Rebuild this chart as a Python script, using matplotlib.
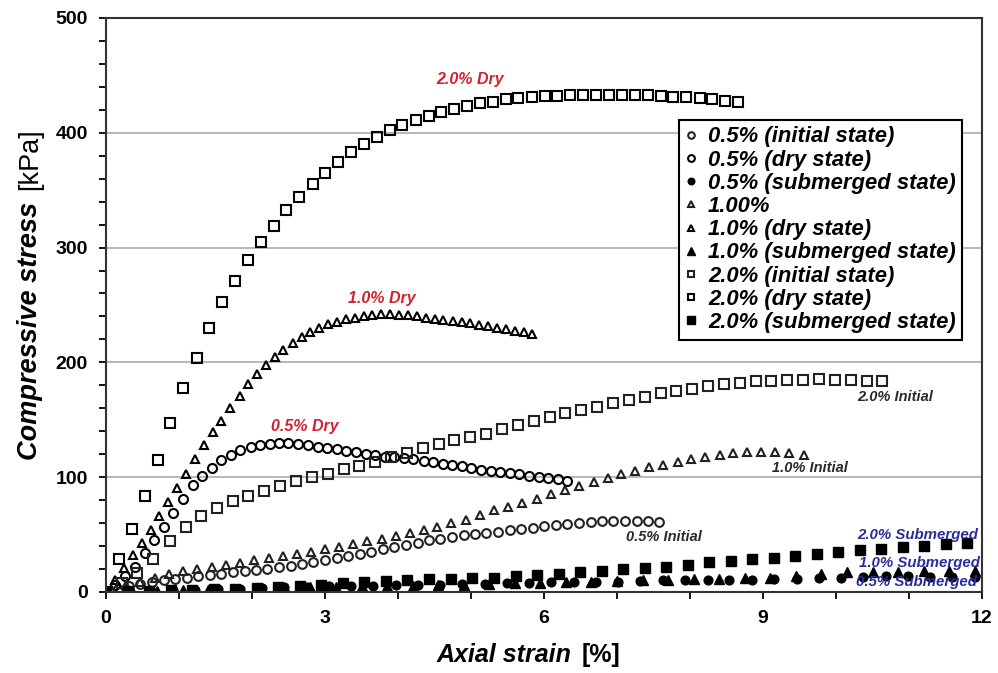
import matplotlib
matplotlib.use("Agg")
import matplotlib.pyplot as plt
from matplotlib.ticker import MultipleLocator

plt.rcParams['font.family'] = ['Liberation Sans', 'DejaVu Sans']

# ---------------------- Data -------------------

# 0.5 % fibre
x_05_init = [0, 0.16, 0.32, 0.47, 0.63, 0.79, 0.95, 1.11, 1.26, 1.42, 1.58, 1.74, 1.90, 2.05, 2.21, 2.37,
             2.53, 2.69, 2.84, 3.00, 3.16, 3.32, 3.48, 3.63, 3.79, 3.95, 4.11, 4.27, 4.42, 4.58, 4.74, 4.90,
             5.06, 5.21, 5.37, 5.53, 5.69, 5.85, 6.00, 6.16, 6.32, 6.48, 6.64, 6.79, 6.95, 7.11, 7.27, 7.43, 7.58]
y_05_init = [0, 3, 5, 7, 9, 10, 11.5, 12.5, 14, 15, 16, 17, 18, 19, 20, 21.5,
             23, 24.5, 26, 28, 30, 31.5, 33, 35, 37, 39, 41, 43, 45, 46.5, 48, 49.5,
             50.5, 51.5, 52.5, 54, 55, 56, 57.5, 58.5, 59.5, 60.5, 61, 61.5, 62, 62, 62, 62, 61]

x_05_dry = [0, 0.13, 0.26, 0.40, 0.53, 0.66, 0.79, 0.92, 1.05, 1.19, 1.32, 1.45, 1.58, 1.71, 1.84, 1.98,
            2.11, 2.24, 2.37, 2.50, 2.63, 2.77, 2.90, 3.03, 3.16, 3.29, 3.42, 3.56, 3.69, 3.82, 3.95, 4.08,
            4.21, 4.35, 4.48, 4.61, 4.74, 4.87, 5.00, 5.14, 5.27, 5.40, 5.53, 5.66, 5.79, 5.93, 6.06, 6.19, 6.32]
y_05_dry = [0, 6, 14, 22, 34, 45, 57, 69, 81, 93, 101, 108, 115, 119.5, 123.5, 126.5,
            128, 129, 129.5, 129.5, 129, 128, 126.5, 125.5, 124.5, 123, 122, 120.5, 119, 118, 117.5, 117,
            115.5, 114.5, 113, 111.5, 110.5, 109.5, 108, 106.5, 105.5, 104.5, 103.5, 102.5, 101, 100, 99, 98, 97]

x_05_sub = [0, 0.31, 0.61, 0.92, 1.22, 1.53, 1.83, 2.14, 2.44, 2.75, 3.05, 3.36, 3.66, 3.97, 4.27, 4.58,
            4.88, 5.19, 5.49, 5.80, 6.10, 6.41, 6.71, 7.02, 7.32, 7.63, 7.93, 8.24, 8.54, 8.85, 9.15, 9.46,
            9.76, 10.07, 10.37, 10.68, 10.98, 11.29, 11.59, 11.90]
y_05_sub = [0, 0.5, 1, 1.5, 2, 2.5, 3, 3.5, 4, 4.5, 5, 5.5, 5.5, 6, 6, 6.5,
            7, 7, 7.5, 8, 8.5, 9, 9, 9, 9.5, 10, 10, 10, 10.5, 10.5, 11, 11.5,
            12, 12.5, 13, 13.5, 13.5, 13, 13, 13]

# 1.0 % fibre
x_10_init = [0.08, 0.28, 0.47, 0.67, 0.86, 1.06, 1.25, 1.45, 1.64, 1.84, 2.03, 2.23, 2.42, 2.61, 2.81, 3.00,
             3.19, 3.38, 3.58, 3.78, 3.97, 4.16, 4.36, 4.54, 4.73, 4.93, 5.12, 5.31, 5.51, 5.70, 5.90, 6.09,
             6.29, 6.48, 6.68, 6.87, 7.06, 7.25, 7.44, 7.63, 7.83, 8.02, 8.21, 8.41, 8.59, 8.78, 8.97, 9.16,
             9.35, 9.56]
y_10_init = [2, 6, 9, 12, 16, 18, 20, 21.5, 23.5, 25.5, 27.5, 29.5, 31, 33, 35, 37.5,
             39.5, 41.5, 44, 46, 49, 51.5, 54, 57, 60, 63, 67, 71, 74, 77.5, 81, 85,
             89, 92, 95.5, 99.5, 102.5, 105, 108.5, 110.5, 113.5, 115.5, 118, 119.5, 121, 122, 122, 121.5,
             121, 119.5]

x_10_dry = [0, 0.12, 0.24, 0.37, 0.49, 0.61, 0.73, 0.85, 0.97, 1.10, 1.22, 1.34, 1.46, 1.58, 1.70, 1.83,
            1.95, 2.07, 2.19, 2.31, 2.43, 2.56, 2.68, 2.80, 2.92, 3.04, 3.17, 3.29, 3.41, 3.53, 3.65, 3.77,
            3.89, 4.02, 4.14, 4.26, 4.38, 4.50, 4.62, 4.75, 4.87, 4.99, 5.11, 5.23, 5.35, 5.48, 5.60, 5.72, 5.84]
y_10_dry = [0, 10, 21, 32, 43, 54, 66, 78, 91, 103, 116, 128, 139, 149, 160, 171,
            181, 190, 198, 205, 211, 217, 222, 226.5, 230, 233, 235.5, 237.5, 239, 240.5, 241.5, 242,
            242, 241.5, 241, 240, 239, 238, 237, 236, 235, 234, 232.5, 231.5, 230, 229, 227.5, 226.5, 225]

x_10_sub = [0, 0.35, 0.70, 1.05, 1.40, 1.75, 2.10, 2.45, 2.80, 3.15, 3.50, 3.85, 4.20, 4.55, 4.90, 5.25,
            5.60, 5.95, 6.30, 6.65, 7.00, 7.35, 7.70, 8.05, 8.40, 8.75, 9.10, 9.45, 9.80, 10.15, 10.50, 10.85,
            11.20, 11.55, 11.90]
y_10_sub = [0, 0.5, 1, 1.5, 2, 2.5, 3, 3.5, 4, 4.5, 5, 5, 5.5, 6, 6.5, 7,
            7.5, 8, 8.5, 9, 9.5, 10, 10.5, 11, 11.5, 12, 12.5, 14, 15.5, 17, 17.5, 17.5,
            18, 18, 18.5]

# 2.0 % fibre
x_20_init = [0, 0.22, 0.43, 0.65, 0.87, 1.09, 1.30, 1.52, 1.74, 1.95, 2.17, 2.39, 2.60, 2.82, 3.04, 3.26,
             3.47, 3.69, 3.91, 4.12, 4.34, 4.56, 4.77, 4.99, 5.21, 5.43, 5.64, 5.86, 6.08, 6.29, 6.51, 6.73,
             6.94, 7.16, 7.38, 7.60, 7.81, 8.03, 8.25, 8.46, 8.68, 8.90, 9.11, 9.33, 9.55, 9.77, 9.98, 10.20,
             10.42, 10.63]
y_20_init = [0, 8, 16.5, 29, 44, 57, 66, 73, 79, 84, 88, 92, 97, 100, 103, 107,
             110, 113.5, 118, 121, 125, 129, 132, 135, 138, 142, 145.5, 149, 152, 156, 158.5, 161,
             165, 167, 170, 173, 175, 177, 179.5, 181, 182, 184, 184, 184.5, 185, 185.5, 185, 184.5,
             184, 184]

x_20_dry = [0, 0.18, 0.35, 0.53, 0.71, 0.88, 1.06, 1.24, 1.41, 1.59, 1.77, 1.94, 2.12, 2.30, 2.47, 2.65,
            2.83, 3.00, 3.18, 3.36, 3.53, 3.71, 3.89, 4.06, 4.24, 4.42, 4.59, 4.77, 4.95, 5.12, 5.30, 5.48,
            5.65, 5.83, 6.01, 6.18, 6.36, 6.54, 6.71, 6.89, 7.07, 7.24, 7.42, 7.60, 7.77, 7.95, 8.13, 8.30,
            8.48, 8.66]
y_20_dry = [0, 29, 55, 84, 115, 147, 178, 204, 230, 253, 271, 289, 305, 319, 333, 344,
            355, 365, 374.5, 383, 390, 396, 402, 407, 411, 414.5, 418, 421, 423, 425.5, 427, 429,
            430, 431, 432, 432, 432.5, 432.5, 433, 433, 433, 433, 432.5, 432, 431.5, 431, 430, 429,
            428, 427]

x_20_sub = [0, 0.30, 0.59, 0.89, 1.18, 1.48, 1.77, 2.07, 2.36, 2.66, 2.95, 3.25, 3.54, 3.84, 4.13, 4.43,
            4.72, 5.02, 5.31, 5.61, 5.90, 6.20, 6.49, 6.79, 7.08, 7.38, 7.67, 7.97, 8.26, 8.56, 8.85, 9.15,
            9.44, 9.74, 10.03, 10.33, 10.62, 10.92, 11.21, 11.51, 11.80]
y_20_sub = [0, 0.5, 1, 1.5, 2, 2.5, 3, 3.5, 4.5, 5.5, 6.5, 7.5, 8.5, 9.5, 10.5, 11,
            11, 12, 12.5, 14, 14.5, 16, 17, 18.5, 20, 20.5, 22, 23.5, 26, 27, 28.5, 30,
            31, 33.5, 35, 36.5, 37.5, 39, 40, 41.5, 42.5]

series_labels = ['0.5% (initial state)', '0.5% (dry state)', '0.5% (submerged state)',
                 '1.00%', '1.0% (dry state)', '1.0% (submerged state)',
                 '2.0% (initial state)', '2.0% (dry state)', '2.0% (submerged state)']

# curve annotations: text, x, y, colour, size
RED = '#d3202e'
BLUE = '#2c2c9c'
GREY = '#2a2a2a'
notes = [('2.0% Dry', 4.99, 446, RED, 11.5), ('1.0% Dry', 3.78, 256, RED, 11.5), ('0.5% Dry', 2.73, 144, RED, 11.5),
         ('2.0% Initial', 10.81, 170, GREY, 10.5), ('1.0% Initial', 9.64, 108, GREY, 10.5),
         ('0.5% Initial', 7.64, 48, GREY, 10.5),
         ('2.0% Submerged', 11.12, 50, BLUE, 10.8), ('1.0% Submerged', 11.14, 25, BLUE, 10.8),
         ('0.5% Submerged', 11.1, 8.5, BLUE, 10.8)]

# ---------------------- Plot -------------------

fig = plt.figure(figsize=(9.98, 6.73), dpi=100)
ax = fig.add_axes([0.1062, 0.1204, 0.8778, 0.8529])

ew = 1.5
ax.plot(x_05_init, y_05_init, 'o', ms=6.3, mfc='none', mec='#222222', mew=ew, label=series_labels[0])
ax.plot(x_05_dry, y_05_dry, 'o', ms=6.5, mfc='none', mec='black', mew=ew, label=series_labels[1])
ax.plot(x_05_sub, y_05_sub, 'o', ms=6.3, mfc='black', mec='black', label=series_labels[2])
ax.plot(x_10_init, y_10_init, '^', ms=6.3, mfc='none', mec='#222222', mew=ew, label=series_labels[3])
ax.plot(x_10_dry, y_10_dry, '^', ms=6.3, mfc='none', mec='black', mew=ew, label=series_labels[4])
ax.plot(x_10_sub, y_10_sub, '^', ms=6.8, mfc='black', mec='black', label=series_labels[5])
ax.plot(x_20_init, y_20_init, 's', ms=6.5, mfc='none', mec='#222222', mew=ew, label=series_labels[6])
ax.plot(x_20_dry, y_20_dry, 's', ms=6.5, mfc='none', mec='black', mew=ew, label=series_labels[7])
ax.plot(x_20_sub, y_20_sub, 's', ms=7.3, mfc='black', mec='black', label=series_labels[8])

for txt, tx, ty, col, fs in notes:
    ax.text(tx, ty, txt, color=col, fontsize=fs, fontweight='bold', fontstyle='italic',
            ha='center', va='center')

ax.set_xlim(0, 12)
ax.set_ylim(0, 500)
ax.xaxis.set_major_locator(MultipleLocator(3))
ax.xaxis.set_minor_locator(MultipleLocator(1))
ax.yaxis.set_major_locator(MultipleLocator(100))
ax.yaxis.set_minor_locator(MultipleLocator(20))
ax.tick_params(which='both', direction='out', width=1.3, labelsize=14, pad=8)
ax.tick_params(which='major', length=5)
ax.tick_params(which='minor', length=5)
for lab in ax.get_xticklabels() + ax.get_yticklabels():
    lab.set_fontweight('bold')
ax.grid(axis='y', which='major', color='#b8b8b8', lw=1.4)
ax.set_axisbelow(True)
for sp in ax.spines.values():
    sp.set_linewidth(1.5)
    sp.set_color('#333333')

leg = ax.legend(loc='upper left', bbox_to_anchor=(0.6545, 0.8225), fancybox=False, framealpha=1,
                edgecolor='black', handlelength=0.5, handletextpad=0.5,
                labelspacing=0.1, borderpad=0.3, markerscale=0.75, borderaxespad=0,
                prop={'weight': 'bold', 'style': 'italic', 'size': 15.8})
leg.get_frame().set_linewidth(1.5)

# axis titles: italic words, upright unit
fig.text(578 / 998, 1 - 655 / 673, 'Axial strain ', fontsize=18, fontweight='bold', fontstyle='italic',
         ha='right', va='center')
fig.text(582 / 998, 1 - 655 / 673, '[%]', fontsize=18, fontweight='bold', ha='left', va='center')
fig.text(30 / 998, 1 - 194 / 673, 'Compressive stress ', fontsize=19.5, fontweight='bold', fontstyle='italic',
         rotation=90, rotation_mode='anchor', ha='right', va='center')
fig.text(30 / 998, 1 - 190 / 673, '[kPa]', fontsize=19.5, rotation=90, rotation_mode='anchor',
         ha='left', va='center')

plt.savefig('out.png', dpi=100)
